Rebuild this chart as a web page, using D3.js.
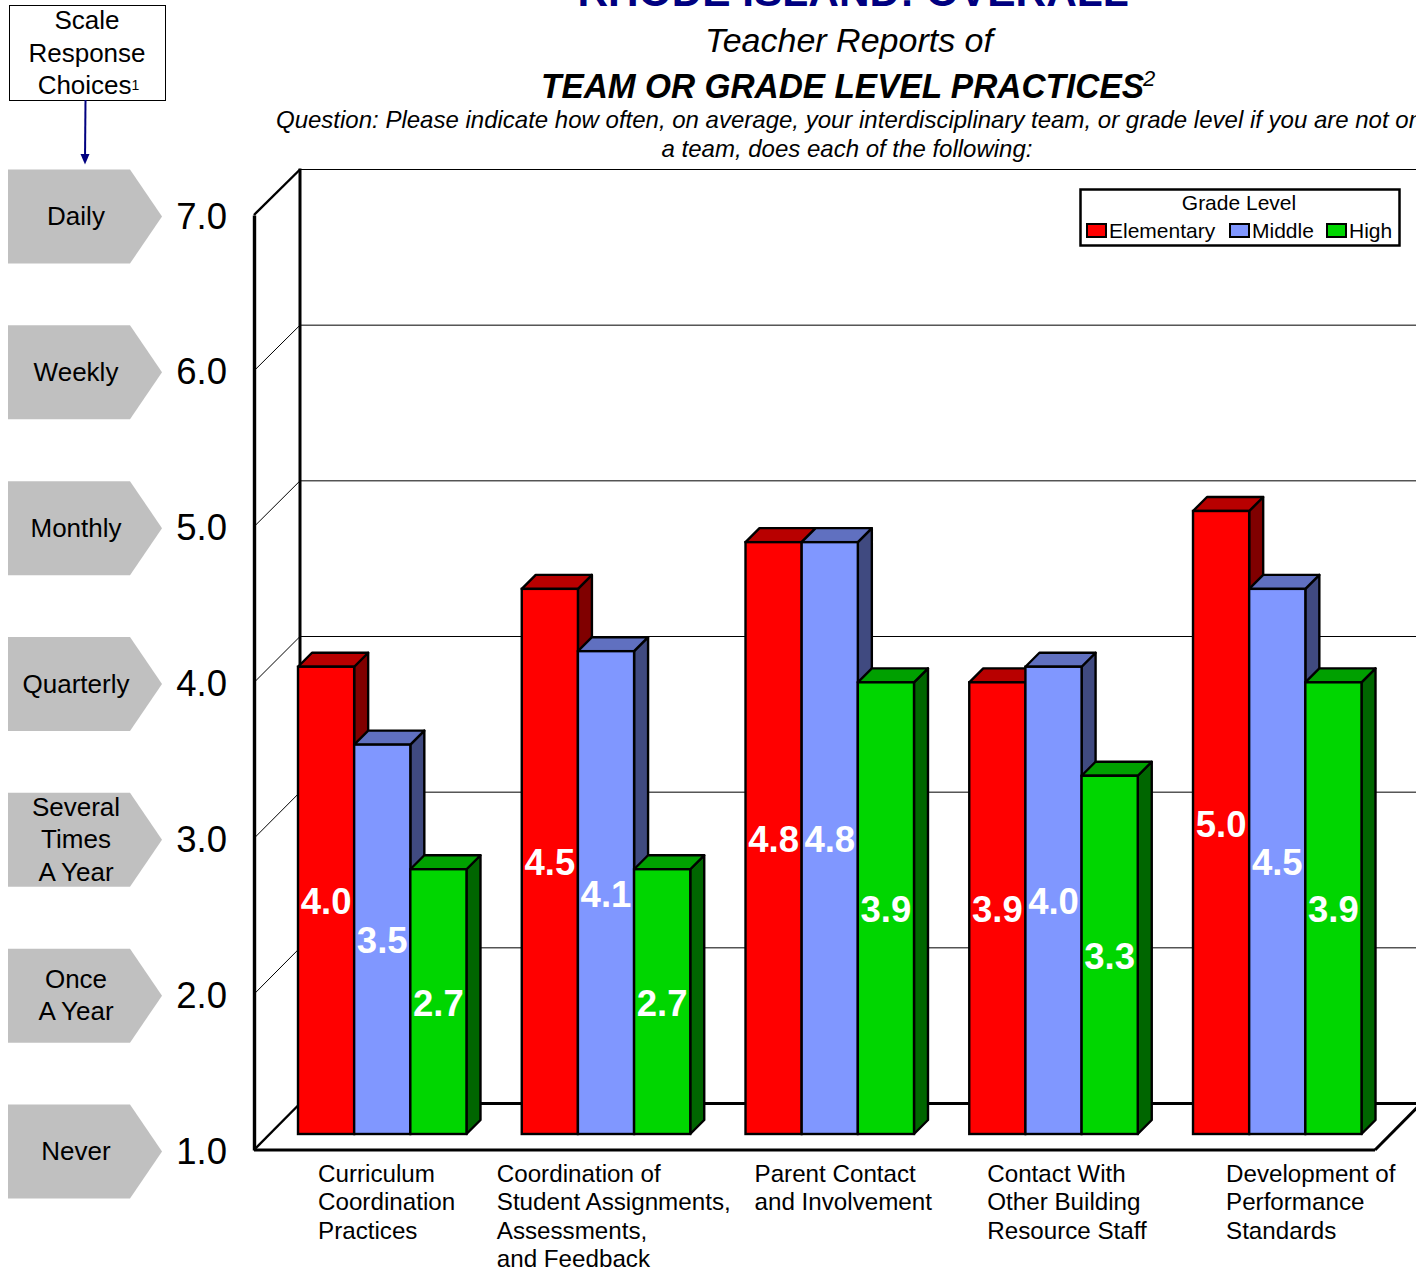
<!DOCTYPE html>
<html>
<head>
<meta charset="utf-8">
<script src="https://cdn.jsdelivr.net/npm/d3@7"></script>
<style>
  html, body { margin: 0; padding: 0; background: #fff; overflow: hidden; }
  svg { display: block; font-family: "Liberation Sans", Arial, sans-serif; fill: #000; }
</style>
</head>
<body>
<div id="chart"></div>
<script>
// Data
const categories = [
    ["Curriculum", "Coordination", "Practices"],
    ["Coordination of", "Student Assignments,", "Assessments,", "and Feedback"],
    ["Parent Contact", "and Involvement"],
    ["Contact With", "Other Building", "Resource Staff"],
    ["Development of", "Performance", "Standards"]
];
const seriesNames = ["Elementary", "Middle", "High"];
const elementary = [4.0, 4.5, 4.8, 3.9, 5.0];
const middle = [3.5, 4.1, 4.8, 4.0, 4.5];
const high = [2.7, 2.7, 3.9, 3.3, 3.9];
const tickValues = [1, 2, 3, 4, 5, 6, 7];
const scaleChoices = [
    ["Never"],
    ["Once", "A Year"],
    ["Several", "Times", "A Year"],
    ["Quarterly"],
    ["Monthly"],
    ["Weekly"],
    ["Daily"]
];

const seriesValues = [elementary, middle, high];

const frontColors = ["#ff0000", "#8097ff", "#00d600"];
const topColors = ["#b80000", "#6070c0", "#00a000"];
const sideColors = ["#800000", "#404a80", "#006600"];

const width = 1416, height = 1275;
const depth = 14;          // bar depth offset
const wallDx = 46;         // left wall, front to back

const svg = d3.select("#chart").append("svg")
    .attr("width", width)
    .attr("height", height);

// Scales: same values, three planes of the fake 3D box
const yBack = d3.scaleLinear().domain([1, 7]).range([1103.5, 169.5]);
const yFront = d3.scaleLinear().domain([1, 7]).range([1150, 215]);
const yBar = d3.scaleLinear().domain([1, 7]).range([1134, 199.5]);

const catIndex = categories.map((d, i) => i);
const x0 = d3.scaleBand().domain(catIndex).range([298, 1361.5]).paddingInner(0.247);
const x1 = d3.scaleBand().domain(d3.range(seriesNames.length)).range([0, x0.bandwidth()]);

const floorRight = 1375;
const backLeft = 254 + wallDx;
const backRight = floorRight + wallDx;

// Gridlines on back wall and left wall
const grid = svg.append("g");
tickValues.forEach(t => {
    grid.append("line")
        .attr("x1", backLeft).attr("x2", backRight + 10)
        .attr("y1", yBack(t)).attr("y2", yBack(t))
        .attr("stroke", "#000").attr("stroke-width", t === 1 ? 3 : 1);
    grid.append("line")
        .attr("x1", 254).attr("x2", backLeft)
        .attr("y1", yFront(t)).attr("y2", yBack(t))
        .attr("stroke", "#000").attr("stroke-width", (t === 1 || t === 7) ? 2.4 : 1);
});

// Back wall edge
svg.append("line")
    .attr("x1", backLeft).attr("x2", backLeft)
    .attr("y1", yBack(7) - 1).attr("y2", yBack(1))
    .attr("stroke", "#000").attr("stroke-width", 3);

// Floor
svg.append("path")
    .attr("d", `M${floorRight},${yFront(1)}L${backRight},${yBack(1)}`)
    .attr("stroke", "#000").attr("stroke-width", 3).attr("fill", "none");
svg.append("line")
    .attr("x1", 254).attr("x2", floorRight)
    .attr("y1", yFront(1)).attr("y2", yFront(1))
    .attr("stroke", "#000").attr("stroke-width", 3);

// Y axis on the front edge
const yAxis = svg.append("g")
    .attr("transform", "translate(254,0)")
    .call(d3.axisLeft(yFront)
        .tickValues(tickValues)
        .tickSize(0)
        .tickPadding(27)
        .tickFormat(d3.format(".1f")));
yAxis.select(".domain").attr("stroke", "#000").attr("stroke-width", 3.4);
yAxis.selectAll("text")
    .attr("font-family", "'Liberation Sans', Arial, sans-serif")
    .attr("font-size", 36.5)
    .attr("dy", "0.36em")
    .attr("fill", "#000");

// Bars
categories.forEach((cat, c) => {
    const g = svg.append("g");
    seriesValues.forEach((values, s) => {
        const v = values[c];
        const xl = x0(c) + x1(s);
        const xr = xl + x1.bandwidth();
        const top = yBar(v);
        const base = yBar(1);

        g.append("polygon")
            .attr("points", [[xr, top], [xr + depth, top - depth], [xr + depth, base - depth], [xr, base]].join(" "))
            .attr("fill", sideColors[s])
            .attr("stroke", "#000").attr("stroke-width", 2.4).attr("stroke-linejoin", "round");
        g.append("polygon")
            .attr("points", [[xl, top], [xl + depth, top - depth], [xr + depth, top - depth], [xr, top]].join(" "))
            .attr("fill", topColors[s])
            .attr("stroke", "#000").attr("stroke-width", 2.4).attr("stroke-linejoin", "round");
        g.append("rect")
            .attr("x", xl).attr("y", top)
            .attr("width", xr - xl).attr("height", base - top)
            .attr("fill", frontColors[s])
            .attr("stroke", "#000").attr("stroke-width", 2.4);
    });
    // value labels go on top so they are never covered by the next bar
    seriesValues.forEach((values, s) => {
        const v = values[c];
        g.append("text")
            .attr("x", x0(c) + x1(s) + x1.bandwidth() / 2)
            .attr("y", (yBar(v) + yBar(1)) / 2 + 14)
            .attr("text-anchor", "middle")
            .attr("font-size", 36.5)
            .attr("font-weight", "bold")
            .attr("fill", "#fff")
            .text(d3.format(".1f")(v));
    });
});

// Category labels, left aligned in their block
const labelShift = [20, -25, 9, 18, 33];
categories.forEach((lines, c) => {
    lines.forEach((line, i) => {
        svg.append("text")
            .attr("x", x0(c) + labelShift[c])
            .attr("y", 1182 + i * 28.4)
            .attr("font-size", 24.2)
            .text(line);
    });
});

// Scale choice pentagons
scaleChoices.forEach((lines, i) => {
    const cy = yFront(i + 1) + 1.5;
    svg.append("polygon")
        .attr("points", [[8, cy - 47], [130, cy - 47], [162, cy], [130, cy + 47], [8, cy + 47]].join(" "))
        .attr("fill", "#c0c0c0");
    const start = cy - (lines.length - 1) * 16.3 + 8.5;
    lines.forEach((line, k) => {
        svg.append("text")
            .attr("x", 76)
            .attr("y", start + k * 32.6)
            .attr("text-anchor", "middle")
            .attr("font-size", 26)
            .text(line);
    });
});

// Scale box and arrow
svg.append("rect")
    .attr("x", 9.5).attr("y", 5.5).attr("width", 156).attr("height", 95)
    .attr("fill", "#fff").attr("stroke", "#000").attr("stroke-width", 1);
["Scale", "Response"].forEach((line, i) => {
    svg.append("text")
        .attr("x", 87).attr("y", 29 + i * 32.5)
        .attr("text-anchor", "middle").attr("font-size", 26)
        .text(line);
});
const choices = svg.append("text")
    .attr("x", 88.5).attr("y", 94)
    .attr("text-anchor", "middle").attr("font-size", 26)
    .text("Choices");
choices.append("tspan").attr("font-size", 14).attr("dy", -4).text("1");

svg.append("line")
    .attr("x1", 85.5).attr("x2", 85)
    .attr("y1", 100).attr("y2", 160)
    .attr("stroke", "#000080").attr("stroke-width", 2);
svg.append("path")
    .attr("d", "M80.5,154L85,164.5L89.5,154Z")
    .attr("fill", "#000080");

// Titles
svg.append("text")
    .attr("x", 853).attr("y", 6)
    .attr("text-anchor", "middle")
    .attr("font-size", 42.4).attr("font-weight", "bold")
    .attr("fill", "#000080")
    .text("RHODE ISLAND: OVERALL");
svg.append("text")
    .attr("x", 849).attr("y", 52)
    .attr("text-anchor", "middle")
    .attr("font-size", 34).attr("font-style", "italic")
    .text("Teacher Reports of");
svg.append("text")
    .attr("x", 541).attr("y", 98)
    .attr("font-size", 34.5).attr("font-style", "italic").attr("font-weight", "bold")
    .attr("textLength", 603).attr("lengthAdjust", "spacingAndGlyphs")
    .text("TEAM OR GRADE LEVEL PRACTICES");
svg.append("text")
    .attr("x", 1143).attr("y", 86)
    .attr("font-size", 22).attr("font-style", "italic")
    .text("2");
svg.append("text")
    .attr("x", 276).attr("y", 128)
    .attr("font-size", 24).attr("font-style", "italic")
    .text("Question: Please indicate how often, on average, your interdisciplinary team, or grade level if you are not on");
svg.append("text")
    .attr("x", 847).attr("y", 157)
    .attr("text-anchor", "middle")
    .attr("font-size", 24).attr("font-style", "italic")
    .text("a team, does each of the following:");

// Legend
const legend = svg.append("g");
legend.append("rect")
    .attr("x", 1080.5).attr("y", 189.5).attr("width", 319).attr("height", 56)
    .attr("fill", "#fff").attr("stroke", "#000").attr("stroke-width", 2.5);
legend.append("text")
    .attr("x", 1239).attr("y", 210)
    .attr("text-anchor", "middle").attr("font-size", 21)
    .text("Grade Level");
const legendX = [1087, 1230, 1327];
seriesNames.forEach((name, s) => {
    legend.append("rect")
        .attr("x", legendX[s]).attr("y", 224).attr("width", 19).attr("height", 13)
        .attr("fill", frontColors[s])
        .attr("stroke", "#000").attr("stroke-width", 2);
    legend.append("text")
        .attr("x", legendX[s] + 22).attr("y", 238)
        .attr("font-size", 21)
        .text(name);
});
</script>
</body>
</html>
